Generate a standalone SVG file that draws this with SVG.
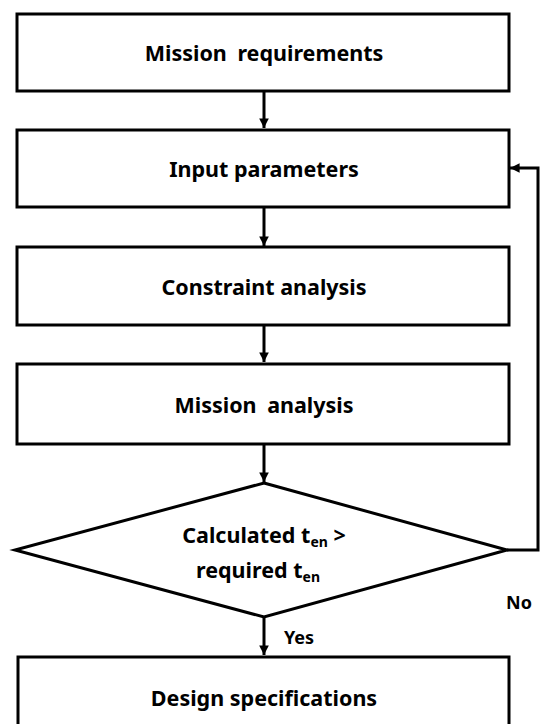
<svg xmlns="http://www.w3.org/2000/svg" width="541" height="724" viewBox="0 0 541 724">
  <style>
    .box { fill: #fff; stroke: #000; stroke-width: 3; }
    .lbl { font-family: "Noto Sans", "Open Sans", sans-serif; font-weight: bold; font-size: 21.5px; fill: #000; text-anchor: middle; }
    .small { font-family: "Noto Sans", "Open Sans", sans-serif; font-weight: bold; font-size: 18px; fill: #000; }
    .sub { font-size: 14px; }
    .wire { fill: none; stroke: #000; stroke-width: 3; }
  </style>
  <defs>
    <marker id="arrow" viewBox="0 0 10 10" refX="10" refY="5" markerWidth="3.2" markerHeight="3.2" orient="auto" markerUnits="strokeWidth">
      <path d="M0,0 L10,5 L0,10 Z" fill="#000"/>
    </marker>
  </defs>
  <rect width="541" height="724" fill="#fff"/>

  <g id="connectors">
    <line class="wire" x1="264" y1="91" x2="264" y2="128" marker-end="url(#arrow)"/>
    <line class="wire" x1="264" y1="207" x2="264" y2="246" marker-end="url(#arrow)"/>
    <line class="wire" x1="264" y1="325" x2="264" y2="362" marker-end="url(#arrow)"/>
    <line class="wire" x1="264" y1="444" x2="264" y2="482" marker-end="url(#arrow)"/>
    <line class="wire" x1="264" y1="617" x2="264" y2="655" marker-end="url(#arrow)"/>
    <polyline class="wire" points="507,550 538,550 538,168 510,168" marker-end="url(#arrow)"/>
    <text class="small" x="284" y="644">Yes</text>
    <text class="small" x="506" y="609">No</text>
  </g>

  <g id="mission-requirements">
    <rect class="box" x="17" y="14" width="492" height="77"/>
    <text class="lbl" x="264" y="61" word-spacing="5">Mission requirements</text>
  </g>

  <g id="input-parameters">
    <rect class="box" x="17" y="130" width="492" height="77"/>
    <text class="lbl" x="264" y="177">Input parameters</text>
  </g>

  <g id="constraint-analysis">
    <rect class="box" x="17" y="247" width="492" height="78"/>
    <text class="lbl" x="264" y="295">Constraint analysis</text>
  </g>

  <g id="mission-analysis">
    <rect class="box" x="17" y="364" width="492" height="80"/>
    <text class="lbl" x="264" y="413" word-spacing="5">Mission analysis</text>
  </g>

  <g id="decision">
    <polygon class="box" points="264,483 507,550 264,617 15,550"/>
    <text class="lbl" x="264" y="543">Calculated t<tspan class="sub" dy="4">en</tspan><tspan dy="-4"> &gt;</tspan></text>
    <text class="lbl" x="258" y="578">required t<tspan class="sub" dy="4">en</tspan></text>
  </g>

  <g id="design-specifications">
    <rect class="box" x="18" y="657" width="491" height="90"/>
    <text class="lbl" x="264" y="706">Design specifications</text>
  </g>
</svg>
